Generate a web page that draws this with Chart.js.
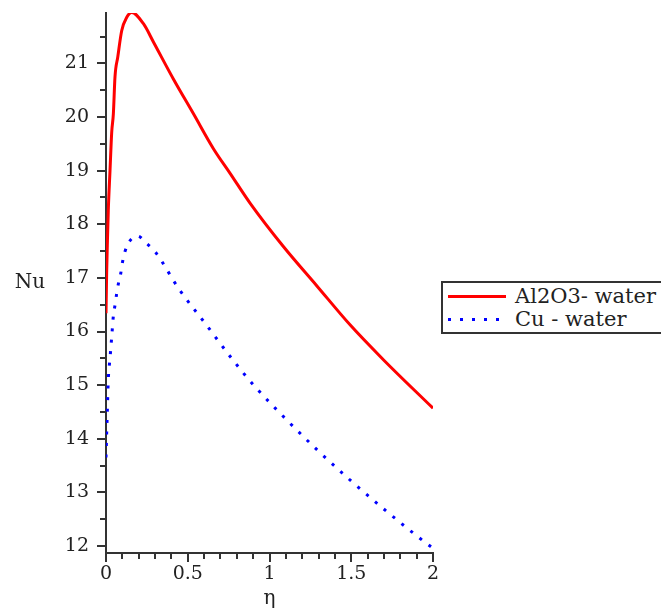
<!DOCTYPE html>
<html>
<head>
<meta charset="utf-8">
<script src="https://cdn.jsdelivr.net/npm/chart.js@4.4.1/dist/chart.umd.min.js"></script>
<style>
  html, body { margin: 0; padding: 0; background: #fff; overflow: hidden; }
  #wrap { position: relative; width: 661px; height: 613px; }
  #legend {
    position: absolute; left: 441px; top: 281px; width: 240px; height: 49px;
    border: 2px solid #333; background: #fff; font-family: "DejaVu Serif", serif;
    font-size: 21px; color: #222;
  }
  .row { position: absolute; left: 0; height: 24px; width: 240px; }
  .sample { position: absolute; left: 5px; width: 58px; height: 3px; top: 11px; }
  .lbl { position: absolute; left: 72px; top: 0; line-height: 24px; white-space: nowrap; }
</style>
</head>
<body>
<div id="wrap">
  <canvas id="c" width="661" height="613"></canvas>
  <div id="legend">
    <div class="row" style="top:1px"><div class="sample" style="background:#ff0000"></div><div class="lbl">Al2O3- water</div></div>
    <div class="row" style="top:24px"><div class="sample" style="background:repeating-linear-gradient(to right,#0000ff 0 3px,transparent 3px 12px)"></div><div class="lbl">Cu - water</div></div>
  </div>
</div>
<script>
// ---- data ----
const seriesNames = ["Al2O3- water", "Cu - water"];
const etaAl = [0, 0.004, 0.008, 0.014, 0.0245, 0.035, 0.045, 0.055, 0.072, 0.096, 0.127, 0.157, 0.229, 0.29, 0.412, 0.535, 0.657, 0.759, 0.882, 1.086, 1.29, 1.494, 1.698, 2.0];
const nuAl  = [16.34, 17.1, 17.6, 18.26, 19.0, 19.72, 20.06, 20.75, 21.12, 21.61, 21.86, 21.95, 21.74, 21.40, 20.71, 20.06, 19.41, 18.95, 18.39, 17.58, 16.85, 16.12, 15.47, 14.57];
const etaCu = [0, 0.004, 0.008, 0.014, 0.0245, 0.035, 0.045, 0.055, 0.065, 0.075, 0.09, 0.1, 0.116, 0.141, 0.194, 0.249, 0.3, 0.447, 0.612, 0.776, 0.906, 1.096, 1.296, 1.504, 1.715, 1.986, 2.0];
const nuCu  = [13.65, 14.1, 14.5, 15.1, 15.5, 15.9, 16.29, 16.49, 16.7, 16.88, 17.08, 17.28, 17.49, 17.67, 17.78, 17.64, 17.49, 16.79, 16.13, 15.47, 14.99, 14.38, 13.78, 13.2, 12.65, 11.99, 11.96];
const xTickLabels = [0, 0.5, 1, 1.5, 2];
const yTickLabels = [12, 13, 14, 15, 16, 17, 18, 19, 20, 21];
const xMinorTicks = [0, 0.1, 0.2, 0.3, 0.4, 0.5, 0.6, 0.7, 0.8, 0.9, 1, 1.1, 1.2, 1.3, 1.4, 1.5, 1.6, 1.7, 1.8, 1.9, 2];
const yMinorTicks = [12, 12.5, 13, 13.5, 14, 14.5, 15, 15.5, 16, 16.5, 17, 17.5, 18, 18.5, 19, 19.5, 20, 20.5, 21, 21.5];
const xRange = [0, 2];
const yRange = [11.87, 21.94];

const toPts = (xs, ys) => xs.map((x, i) => ({ x: x, y: ys[i] }));

Chart.defaults.font.family = '"DejaVu Serif", serif';
Chart.defaults.color = '#222';

const tickMarks = {
  id: 'tickMarks',
  afterDraw(chart) {
    const ctx = chart.ctx, xs = chart.scales.x, ys = chart.scales.y;
    const a = chart.chartArea;
    ctx.save();
    ctx.strokeStyle = '#333';
    ctx.lineWidth = 2;
    ctx.beginPath();
    yMinorTicks.forEach(v => {
      const p = Math.round(ys.getPixelForValue(v));
      const len = Number.isInteger(v) ? 9 : 6;
      ctx.moveTo(a.left - len, p); ctx.lineTo(a.left, p);
    });
    xMinorTicks.forEach(v => {
      const p = Math.round(xs.getPixelForValue(v));
      const major = Math.abs(v * 2 - Math.round(v * 2)) < 1e-9;
      const len = major ? 9 : 6;
      ctx.moveTo(p, a.bottom); ctx.lineTo(p, a.bottom + len);
    });
    ctx.stroke();
    // horizontal y-axis title
    ctx.fillStyle = '#222';
    ctx.font = '20px "DejaVu Serif", serif';
    ctx.textAlign = 'center';
    ctx.textBaseline = 'middle';
    ctx.fillText('Nu', a.left - 76, (a.top + a.bottom) / 2);
    ctx.restore();
  }
};

new Chart(document.getElementById('c'), {
  type: 'line',
  data: {
    datasets: [
      { label: seriesNames[0], data: toPts(etaAl, nuAl), borderColor: '#ff0000', borderWidth: 3,
        pointRadius: 0, fill: false, cubicInterpolationMode: 'monotone' },
      { label: seriesNames[1], data: toPts(etaCu, nuCu), borderColor: '#0000ff', borderWidth: 3,
        borderDash: [3, 8.5], borderCapStyle: 'butt', pointRadius: 0, fill: false, cubicInterpolationMode: 'monotone' }
    ]
  },
  options: {
    responsive: false,
    animation: false,
    layout: { padding: { top: 13, right: 228, left: 0, bottom: 0 } },
    plugins: { legend: { display: false }, tooltip: { enabled: false } },
    scales: {
      x: {
        type: 'linear', min: xRange[0], max: xRange[1],
        afterBuildTicks: s => { s.ticks = xTickLabels.map(v => ({ value: v })); },
        afterFit: s => { s.height = 60; s.paddingLeft = 0; s.paddingRight = 0; },
        grid: { drawOnChartArea: false, drawTicks: false },
        border: { color: '#333', width: 2 },
        ticks: { font: { size: 19 }, padding: 10, maxRotation: 0, autoSkip: false,
                 callback: v => String(v) },
        title: { display: true, text: 'η', font: { size: 20 }, padding: { top: 0, bottom: 2.5 } }
      },
      y: {
        type: 'linear', min: yRange[0], max: yRange[1],
        afterBuildTicks: s => { s.ticks = yTickLabels.map(v => ({ value: v })); },
        afterFit: s => { s.width = 106; s.paddingTop = 0; s.paddingBottom = 0; },
        grid: { drawOnChartArea: false, drawTicks: false },
        border: { color: '#333', width: 2 },
        ticks: { font: { size: 19 }, padding: 17, autoSkip: false, callback: v => String(v) }
      }
    }
  },
  plugins: [tickMarks]
});
</script>
</body>
</html>
